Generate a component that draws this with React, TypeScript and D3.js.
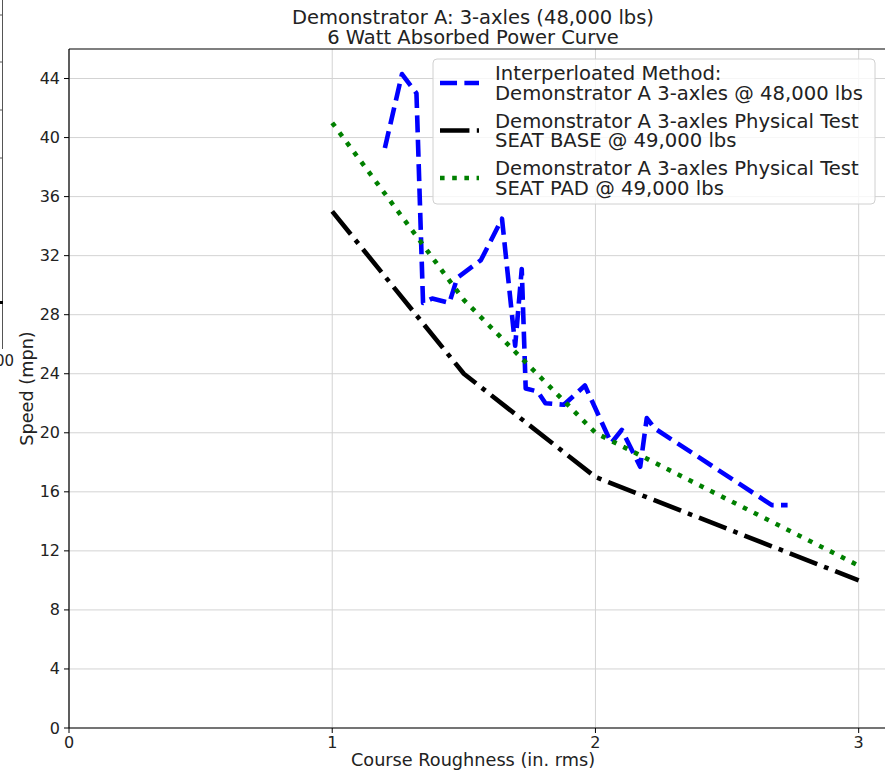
import React from 'react';
import * as d3 from 'd3';

// Interpolated method (blue dashed)
const interpX = [1.2, 1.265, 1.32, 1.345, 1.38, 1.445, 1.475, 1.565, 1.645, 1.695, 1.72, 1.735, 1.78, 1.81, 1.88, 1.96, 2.06, 2.1, 2.17, 2.195, 2.225, 2.67, 2.73];
const interpY = [39.3, 44.3, 43.0, 28.8, 29.1, 28.8, 30.5, 31.7, 34.5, 25.9, 31.1, 23.0, 22.8, 22.0, 21.9, 23.2, 19.3, 20.2, 17.7, 21.0, 20.3, 15.1, 15.1];

// Physical test - seat base (black dash-dot)
const baseX = [1, 1.5, 2, 3];
const baseY = [35, 24, 17, 10];

// Physical test - seat pad (green dotted)
const padX = [1, 1.5, 2, 3];
const padY = [41, 29, 20, 11];

const xTicks = [0, 1, 2, 3];
const yTicks = [0, 4, 8, 12, 16, 20, 24, 28, 32, 36, 40, 44];

const legendLabels = [
  ['Interperloated Method:', 'Demonstrator A 3-axles @ 48,000 lbs'],
  ['Demonstrator A 3-axles Physical Test', 'SEAT BASE @ 49,000 lbs'],
  ['Demonstrator A 3-axles Physical Test', 'SEAT PAD @ 49,000 lbs'],
];

const W = 885;
const H = 773;
const margin = { top: 49, right: 0, bottom: 45, left: 69 };
const font = 'DejaVu Sans, sans-serif';

const lw = 4.6;
const styles = [
  { color: '#0000ff', dash: `${3.7 * lw} ${1.6 * lw}` },
  { color: '#000000', dash: `${6.4 * lw} ${1.6 * lw} ${lw} ${1.6 * lw}` },
  { color: '#008000', dash: `${lw} ${1.65 * lw}` },
];

const App = () => {
  const x = d3.scaleLinear().domain([0, 3.1]).range([margin.left, W - margin.right]);
  const y = d3.scaleLinear().domain([0, 46]).range([H - margin.bottom, margin.top]);

  const line = d3.line<[number, number]>().x(d => x(d[0])).y(d => y(d[1]));
  const series = [
    interpX.map((v, i) => [v, interpY[i]] as [number, number]),
    baseX.map((v, i) => [v, baseY[i]] as [number, number]),
    padX.map((v, i) => [v, padY[i]] as [number, number]),
  ];

  const x0 = margin.left;
  const x1 = W - margin.right;
  const y0 = H - margin.bottom;
  const y1 = margin.top;

  return (
    <svg width={W} height={H} style={{ position: 'absolute', left: 0, top: 0, background: '#fff' }} fontFamily={font}>
      {/* leftover edge of a neighbouring figure */}
      <g stroke="#555" strokeWidth={1}>
        <line x1={2.5} y1={0} x2={2.5} y2={349} />
        {[15, 62, 110, 158].map(t => <line key={t} x1={0} y1={t} x2={3} y2={t} />)}
      </g>
      <rect x={0} y={301} width={3} height={3} fill="#000" />
      <text x={-5} y={366} fontSize={15} fill="#222">00</text>

      {/* grid */}
      <g stroke="#d3d3d3" strokeWidth={1}>
        {xTicks.map(t => <line key={'gx' + t} x1={x(t)} x2={x(t)} y1={y1} y2={y0} />)}
        {yTicks.map(t => <line key={'gy' + t} x1={x0} x2={x1} y1={y(t)} y2={y(t)} />)}
      </g>

      {/* series */}
      <g clipPath="url(#plotclip)">
        {series.map((s, i) => (
          <path key={i} d={line(s) || ''} fill="none" stroke={styles[i].color} strokeWidth={lw}
            strokeDasharray={styles[i].dash} strokeLinejoin="round" strokeLinecap="butt" />
        ))}
      </g>
      <defs>
        <clipPath id="plotclip"><rect x={x0} y={y1} width={x1 - x0} height={y0 - y1} /></clipPath>
      </defs>

      {/* frame */}
      <g stroke="#000" strokeWidth={1.2} fill="none">
        <line x1={x0} x2={x0} y1={y1} y2={y0} />
        <line x1={x0} x2={x1} y1={y0} y2={y0} />
        <line x1={x0} x2={x1} y1={y1} y2={y1} />
      </g>

      {/* ticks */}
      <g fontSize={16} fill="#222">
        {yTicks.map(t => (
          <g key={'ty' + t}>
            <line x1={x0 - 5} x2={x0} y1={y(t)} y2={y(t)} stroke="#000" />
            <text x={x0 - 9} y={y(t)} textAnchor="end" dominantBaseline="central">{t}</text>
          </g>
        ))}
        {xTicks.map(t => (
          <g key={'tx' + t}>
            <line x1={x(t)} x2={x(t)} y1={y0} y2={y0 + 5} stroke="#000" />
            <text x={x(t)} y={y0 + 20} textAnchor="middle">{t}</text>
          </g>
        ))}
      </g>

      {/* axis labels */}
      <text x={473} y={766} textAnchor="middle" fontSize={17.7} fill="#222">Course Roughness (in. rms)</text>
      <text transform={`translate(33,${(y0 + y1) / 2}) rotate(-90)`} textAnchor="middle" fontSize={17.7} fill="#222">Speed (mpn)</text>

      {/* title */}
      <text x={473} y={24} textAnchor="middle" fontSize={19.5} fill="#222">Demonstrator A: 3-axles (48,000 lbs)</text>
      <text x={473} y={44} textAnchor="middle" fontSize={19.5} fill="#222">6 Watt Absorbed Power Curve</text>

      {/* legend */}
      <g>
        <rect x={433} y={59} width={442} height={145} rx={4} fill="#fff" fillOpacity={0.8} stroke="#d0d0d0" />
        {legendLabels.map((lbl, i) => {
          const cy = 83 + i * 47.5;
          return (
            <g key={'lg' + i}>
              <line x1={440} x2={479} y1={cy} y2={cy} stroke={styles[i].color} strokeWidth={lw} strokeDasharray={styles[i].dash} />
              <text x={495} y={cy - 3} fontSize={19.6} fill="#222">{lbl[0]}</text>
              <text x={495} y={cy + 16.5} fontSize={19.6} fill="#222">{lbl[1]}</text>
            </g>
          );
        })}
      </g>
    </svg>
  );
};

export default App;
